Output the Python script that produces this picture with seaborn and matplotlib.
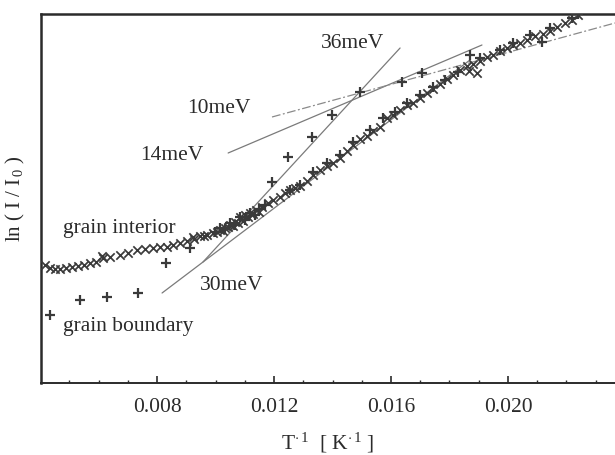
import matplotlib
matplotlib.use("Agg")
import matplotlib.pyplot as plt
from matplotlib.ticker import MultipleLocator, FixedLocator
import seaborn as sns
import pandas as pd

# ---------------- data ----------------
interior_x = [0.00417, 0.00434, 0.00451, 0.00468, 0.00489, 0.00509, 0.00530, 0.00550,
              0.00571, 0.00591, 0.00615, 0.00639, 0.00674, 0.00701, 0.00732, 0.00759,
              0.00786, 0.00810, 0.00834, 0.00855, 0.00879, 0.00903, 0.00923, 0.00947,
              0.00971, 0.00991, 0.01015, 0.01032, 0.01050, 0.01067, 0.01084, 0.01101,
              0.01118, 0.01138, 0.01159, 0.01180, 0.01197, 0.01221, 0.01238, 0.01255,
              0.01272, 0.01289, 0.01313, 0.01333, 0.01357, 0.01381, 0.01402, 0.01426,
              0.01450, 0.01470, 0.01494, 0.01518, 0.01538, 0.01562, 0.01586, 0.01607,
              0.01631, 0.01655, 0.01675, 0.01699, 0.01723, 0.01744, 0.01768, 0.01791,
              0.01812, 0.01836, 0.01860, 0.01880, 0.01904, 0.01928, 0.01949, 0.01973,
              0.01997, 0.02017, 0.02041, 0.02065, 0.02092, 0.02120, 0.02144, 0.02168,
              0.02195, 0.02219, 0.02239,
              0.00612, 0.00925, 0.00960, 0.01005, 0.01024, 0.01042, 0.01060, 0.01076,
              0.01093, 0.01110, 0.01128, 0.01148, 0.01865, 0.01895]
interior_y = [1.18, 1.15, 1.14, 1.14, 1.15, 1.16, 1.17, 1.18,
              1.20, 1.21, 1.25, 1.26, 1.28, 1.30, 1.33, 1.34,
              1.35, 1.36, 1.36, 1.38, 1.40, 1.42, 1.46, 1.47,
              1.48, 1.50, 1.53, 1.55, 1.58, 1.61, 1.66, 1.68,
              1.70, 1.73, 1.76, 1.80, 1.83, 1.86, 1.90, 1.93,
              1.95, 1.97, 2.02, 2.08, 2.13, 2.17, 2.20, 2.25,
              2.32, 2.38, 2.44, 2.47, 2.52, 2.56, 2.65, 2.68,
              2.73, 2.78, 2.80, 2.85, 2.90, 2.94, 2.99, 3.04,
              3.08, 3.13, 3.17, 3.19, 3.22, 3.26, 3.28, 3.32,
              3.35, 3.38, 3.40, 3.43, 3.47, 3.49, 3.52, 3.56,
              3.60, 3.63, 3.68,
              1.27, 1.44, 1.47, 1.51, 1.52, 1.56, 1.57, 1.60,
              1.62, 1.66, 1.69, 1.71, 3.12, 3.10]

boundary_x = [0.00434, 0.00537, 0.00629, 0.00735, 0.00831, 0.00913, 0.00998, 0.01032,
              0.01067, 0.01101, 0.01135, 0.01169, 0.01193, 0.01248, 0.01330, 0.01399,
              0.01494, 0.01638, 0.01706,
              0.01255, 0.01289, 0.01333, 0.01381, 0.01426, 0.01470, 0.01528, 0.01573,
              0.01614, 0.01655, 0.01699, 0.01744, 0.01785, 0.01829, 0.01870, 0.01904,
              0.01973, 0.02017, 0.02075, 0.02116, 0.02144, 0.02219, 0.02239,
              0.01015, 0.01050, 0.01084, 0.01118, 0.01150]
boundary_y = [0.68, 0.83, 0.86, 0.90, 1.20, 1.35, 1.51, 1.54,
              1.58, 1.63, 1.68, 1.78, 2.01, 2.26, 2.46, 2.68,
              2.91, 3.01, 3.10,
              1.93, 1.98, 2.11, 2.20, 2.28, 2.41, 2.53, 2.65,
              2.71, 2.80, 2.88, 2.96, 3.03, 3.11, 3.28, 3.25,
              3.33, 3.40, 3.48, 3.41, 3.55, 3.65, 3.69,
              1.55, 1.60, 1.66, 1.70, 1.74]

# fitted activation-energy lines (end points)
fit_names = ["36meV", "30meV", "14meV", "10meV"]
fit_x = [[0.00957, 0.01631], [0.00817, 0.01870], [0.01043, 0.01911], [0.01193, 0.02366]]
fit_y = [[1.21, 3.35], [0.90, 3.23], [2.30, 3.38], [2.66, 3.60]]

# labels
label_texts = ["36meV", "10meV", "14meV", "grain interior", "30meV", "grain boundary"]
label_x = [0.01467, 0.01012, 0.00851, 0.00670, 0.01056, 0.00701]
label_y = [3.39, 2.74, 2.28, 1.54, 0.98, 0.57]

major_ticks = [0.008, 0.012, 0.016, 0.020]
major_tick_labels = ["0.008", "0.012", "0.016", "0.020"]

# ---------------- plotting ----------------
sns.set_theme(style="ticks")
plt.rcParams["font.family"] = ["Liberation Serif", "DejaVu Serif"]
plt.rcParams["mathtext.fontset"] = "custom"
plt.rcParams["mathtext.rm"] = "Liberation Serif"
plt.rcParams["mathtext.it"] = "Liberation Serif"
plt.rcParams["mathtext.default"] = "rm"

ink = "#2b2b2b"
fig = plt.figure(figsize=(6.15, 4.55), dpi=100)
fig.patch.set_facecolor("white")
ax = fig.add_axes([41 / 615, 72 / 455, 574 / 615, 369 / 455])

df_i = pd.DataFrame({"x": interior_x, "y": interior_y})
df_b = pd.DataFrame({"x": boundary_x, "y": boundary_y})

for xs, ys, name in zip(fit_x, fit_y, fit_names):
    dfl = pd.DataFrame({"x": xs, "y": ys})
    if name == "10meV":
        sns.lineplot(data=dfl, x="x", y="y", ax=ax, color="#8a8a8a", lw=0.9,
                     linestyle=(0, (7, 2, 1.5, 2)), sort=False)
    else:
        sns.lineplot(data=dfl, x="x", y="y", ax=ax, color="#7a7a7a", lw=0.9, sort=False)

sns.scatterplot(data=df_i, x="x", y="y", ax=ax, marker="x", s=36, color="#3a3a3a",
                linewidth=1.25, zorder=3)
sns.scatterplot(data=df_b, x="x", y="y", ax=ax, marker="+", s=58, color="#3a3a3a",
                linewidth=1.6, zorder=3)

for t, x, y in zip(label_texts, label_x, label_y):
    ax.text(x, y, t, ha="center", va="center", fontsize=15.5, color=ink)

ax.set_xlim(0.00403, 0.02366)
ax.set_ylim(0, 3.69)

ax.xaxis.set_major_locator(FixedLocator(major_ticks))
ax.set_xticklabels(major_tick_labels)
ax.xaxis.set_minor_locator(MultipleLocator(0.001))
ax.tick_params(axis="x", which="major", direction="in", length=5, width=1.2,
               pad=11, labelsize=15.5, labelcolor=ink, color=ink, top=False)
ax.tick_params(axis="x", which="minor", direction="in", length=2, width=1.0,
               color=ink, top=False)
ax.set_yticks([])

for side in ["left", "top", "bottom"]:
    ax.spines[side].set_visible(True)
    ax.spines[side].set_color(ink)
ax.spines["left"].set_linewidth(1.8)
ax.spines["top"].set_linewidth(1.8)
ax.spines["bottom"].set_linewidth(1.4)
ax.spines["right"].set_visible(False)

ax.set_xlabel(r"T$^{\cdot\,1}$  [ K$^{\cdot\,1}$ ]", fontsize=15.5, color=ink, labelpad=10)
ax.set_ylabel(r"ln ( I / I$_{\,0}$ )", fontsize=15, color=ink, labelpad=10)

fig.savefig("out.png", dpi=100, facecolor="white")
